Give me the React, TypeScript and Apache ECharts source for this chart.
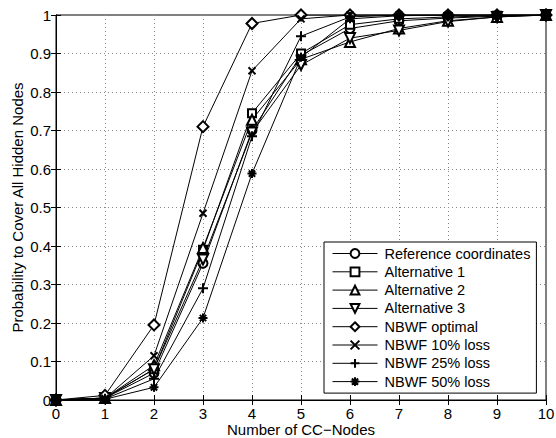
import React, { useEffect, useRef } from "react";
import * as echarts from "echarts";

const xCategories = [0, 1, 2, 3, 4, 5, 6, 7, 8, 9, 10];
const yTickLabels = ["0", "0.1", "0.2", "0.3", "0.4", "0.5", "0.6", "0.7", "0.8", "0.9", "1"];

const seriesNames = [
  "Reference coordinates",
  "Alternative 1",
  "Alternative 2",
  "Alternative 3",
  "NBWF optimal",
  "NBWF 10% loss",
  "NBWF 25% loss",
  "NBWF 50% loss",
];

const refCoords = [0, 0.005, 0.07, 0.355, 0.7, 0.895, 0.965, 0.985, 0.992, 0.997, 1];
const alt1 = [0, 0.005, 0.08, 0.39, 0.745, 0.9, 0.975, 0.99, 0.995, 0.998, 1];
const alt2 = [0, 0.005, 0.09, 0.395, 0.728, 0.885, 0.93, 0.965, 0.985, 0.995, 1];
const alt3 = [0, 0.005, 0.08, 0.365, 0.695, 0.87, 0.94, 0.96, 0.983, 0.995, 1];
const nbwfOptimal = [0, 0.012, 0.195, 0.71, 0.978, 1, 1, 1, 1, 1, 1];
const nbwf10 = [0, 0.004, 0.115, 0.485, 0.855, 0.99, 1, 1, 1, 1, 1];
const nbwf25 = [0, 0.003, 0.055, 0.29, 0.685, 0.945, 0.995, 1, 1, 1, 1];
const nbwf50 = [0, 0.002, 0.033, 0.213, 0.588, 0.89, 0.99, 0.998, 1, 1, 1];

const seriesData = [refCoords, alt1, alt2, alt3, nbwfOptimal, nbwf10, nbwf25, nbwf50];

const symbols = [
  "emptyCircle",
  "emptyRect",
  "emptyTriangle",
  "emptyPath://M0,0 L10,0 L5,9 Z",
  "emptyDiamond",
  "emptyPath://M0,0 L10,10 M10,0 L0,10",
  "emptyPath://M5,0 L5,10 M0,5 L10,5",
  "emptyPath://M5,0 L5,10 M0,5 L10,5 M1.5,1.5 L8.5,8.5 M8.5,1.5 L1.5,8.5",
];
const symbolSizes = [9, 8, 10, 10, 11, 7, 10, 9];

export default function App() {
  const ref = useRef<HTMLDivElement>(null);
  useEffect(() => {
    if (!ref.current) return;
    const chart = echarts.init(ref.current, null, { renderer: "svg" });
    const font = "'Liberation Sans', Arial, Helvetica, sans-serif";
    chart.setOption({
      animation: false,
      backgroundColor: "#fff",
      textStyle: { fontFamily: font, color: "#000" },
      grid: {
        left: 56,
        right: 10,
        top: 15,
        bottom: 38,
        containLabel: false,
        outerBoundsMode: "none",
        show: true,
        borderColor: "#000",
        borderWidth: 1,
        backgroundColor: "#fff",
      },
      legend: {
        orient: "vertical",
        left: 324,
        top: 242,
        backgroundColor: "#fff",
        borderColor: "#000",
        borderWidth: 1,
        borderRadius: 0,
        padding: [4, 6, 4, 8],
        itemWidth: 45,
        itemHeight: 11,
        itemGap: 3.3,
        itemStyle: { borderWidth: 1 },
        lineStyle: { width: 1 },
        textStyle: { fontFamily: font, fontSize: 14.5, lineHeight: 14, color: "#000", padding: [0, 0, 0, 2] },
        data: seriesNames,
      },
      xAxis: [
        {
          type: "value",
          min: 0,
          max: 10,
          interval: 1,
          axisLine: { show: true, lineStyle: { color: "#000" } },
          axisTick: { show: true, inside: true, length: 5, lineStyle: { color: "#000" } },
          axisLabel: { color: "#000", fontSize: 15, margin: 6, fontFamily: font },
          splitLine: { show: true, lineStyle: { color: "#888", type: [1, 3], width: 1 } },
          name: "Number of CC\u2212Nodes",
          nameLocation: "middle",
          nameGap: 22,
          nameMoveOverlap: false,
          nameTextStyle: { color: "#000", fontSize: 15, fontFamily: font },
        },
        {
          type: "value",
          position: "top",
          min: 0,
          max: 10,
          interval: 1,
          axisLine: { show: true, lineStyle: { color: "#000" } },
          axisTick: { show: true, inside: true, length: 5, lineStyle: { color: "#000" } },
          axisLabel: { show: false },
          splitLine: { show: false },
        },
      ],
      yAxis: [
        {
          type: "value",
          min: 0,
          max: 1,
          interval: 0.1,
          axisLine: { show: true, lineStyle: { color: "#000" } },
          axisTick: { show: true, inside: true, length: 5, lineStyle: { color: "#000" } },
          axisLabel: {
            color: "#000",
            fontSize: 15,
            margin: 5,
            fontFamily: font,
            formatter: (v: number) => yTickLabels[Math.round(v * 10)] ?? String(v),
          },
          splitLine: { show: true, lineStyle: { color: "#888", type: [1, 3], width: 1 } },
          name: "Probability to Cover All Hidden Nodes",
          nameLocation: "middle",
          nameGap: 31,
          nameMoveOverlap: false,
          nameTextStyle: { color: "#000", fontSize: 15, fontFamily: font },
        },
        {
          type: "value",
          position: "right",
          min: 0,
          max: 1,
          interval: 0.1,
          axisLine: { show: true, lineStyle: { color: "#000" } },
          axisTick: { show: true, inside: true, length: 5, lineStyle: { color: "#000" } },
          axisLabel: { show: false },
          splitLine: { show: false },
        },
      ],
      series: seriesNames.map((name, i) => ({
        name,
        type: "line",
        xAxisIndex: 0,
        yAxisIndex: 0,
        data: seriesData[i].map((v, j) => [xCategories[j], v]),
        symbol: symbols[i],
        symbolSize: symbolSizes[i],
        showAllSymbol: true,
        lineStyle: { color: "#000", width: 1 },
        itemStyle: { color: "#000", borderColor: "#000", borderWidth: 1 },
        emphasis: { disabled: true },
        z: 2 + i,
      })),
    });
    return () => chart.dispose();
  }, []);
  return <div ref={ref} style={{ width: 556, height: 438, position: "absolute", left: 0, top: 0 }} />;
}
